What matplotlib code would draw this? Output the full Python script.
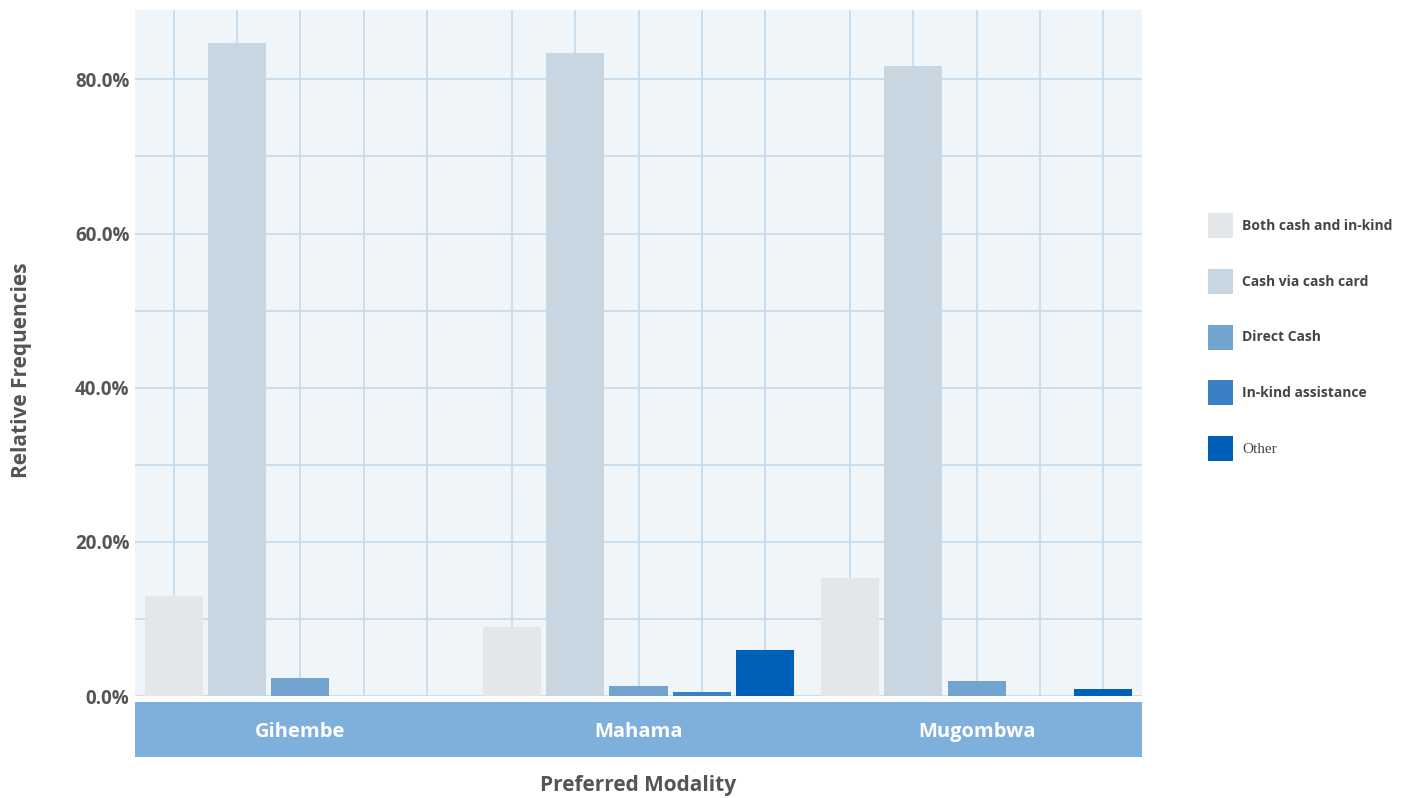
import numpy as np
import matplotlib.pyplot as plt
from matplotlib.patches import Patch

camps = ['Gihembe', 'Mahama', 'Mugombwa']
modalities = ['Both cash and in-kind', 'Cash via cash card', 'Direct Cash',
              'In-kind assistance', 'Other']

# relative frequencies (%) per camp, in modality order
gihembe = [13.0, 84.7, 2.3, 0.0, 0.0]
mahama = [9.0, 83.4, 1.3, 0.5, 6.0]
mugombwa = [15.3, 81.7, 1.9, 0.0, 0.9]

colors = ['#e3e7e9', '#c8d6e1', '#72a4cf', '#3a80c4', '#0060b8']
bg = '#f0f5fa'
grid_col = '#c6dcf0'
strip_col = '#7fafdb'
text_col = '#555555'

fig = plt.figure(figsize=(14.09, 7.98), dpi=100)

W, H = 1409, 798
left, right = 135 / W, 1142 / W
bottom, top = 1 - 696 / H, 1 - 10 / H

ax = fig.add_axes([left, bottom, right - left, top - bottom])
ax.set_facecolor(bg)

step = 0.187
width = 0.1716
centers = np.arange(1, len(camps) + 1)
ticks = []
for i, col in enumerate(colors):
    vals = [gihembe[i], mahama[i], mugombwa[i]]
    xs = centers + (i - 2) * step
    ax.bar(xs, vals, width=width, color=col, zorder=2)
    ticks.extend(xs)

ax.set_xlim(0.5104, 3.4896)
ax.set_ylim(0, 89)
ax.set_xticks(sorted(ticks))
ax.set_yticks(range(0, 90, 10))
ax.set_yticklabels([f'{v:.1f}%' if v % 20 == 0 else '' for v in range(0, 90, 10)],
                   fontsize=13.5, fontweight='bold', color=text_col,
                   family='Open Sans')
ax.grid(True, color=grid_col, linewidth=1.3, zorder=0)
ax.set_axisbelow(True)
ax.tick_params(length=0, labelbottom=False)
ax.tick_params(axis='y', pad=4)
for s in ax.spines.values():
    s.set_visible(False)

# camp band under the bars
sax = fig.add_axes([left, 1 - 757 / H, right - left, 55 / H])
sax.set_facecolor(strip_col)
sax.set_xlim(ax.get_xlim())
sax.set_ylim(0, 1)
sax.set_xticks([])
sax.set_yticks([])
for s in sax.spines.values():
    s.set_visible(False)
for c, camp in zip(centers, camps):
    sax.text(c, 0.46, camp, ha='center', va='center', color='white',
             fontsize=14.5, fontweight='bold', family='Open Sans')

fig.text(22 / W, 1 - 370 / H, 'Relative Frequencies', rotation=90,
         ha='center', va='center', fontsize=15, fontweight='bold',
         color=text_col, family='Open Sans')
fig.text((left + right) / 2, 1 - 786 / H, 'Preferred Modality',
         ha='center', va='center', fontsize=15, fontweight='bold',
         color=text_col, family='Open Sans')

handles = [Patch(facecolor=c, edgecolor='none') for c in colors]
leg = fig.legend(handles, modalities, loc='upper left',
                 bbox_to_anchor=(1208 / W, 1 - 213 / H), frameon=False,
                 borderpad=0, borderaxespad=0, handlelength=1.8,
                 handleheight=2.39, labelspacing=2.22, handletextpad=0.65,
                 prop={'size': 10, 'weight': 'bold', 'family': 'Open Sans'})
for t in leg.get_texts():
    t.set_color('#444444')
other = leg.get_texts()[-1]
other.set_family('Liberation Serif')
other.set_fontsize(11)
other.set_fontweight('normal')

fig.savefig('out.png', dpi=100)
